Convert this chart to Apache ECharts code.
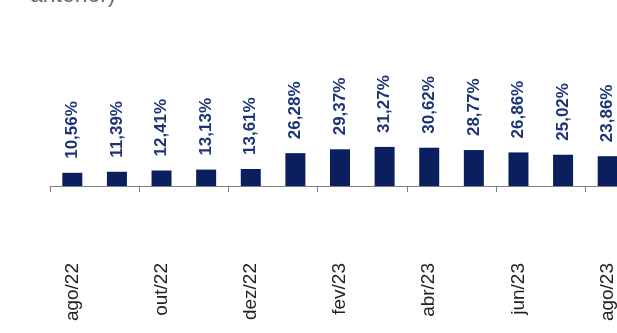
<!DOCTYPE html>
<html>
<head>
<meta charset="utf-8">
<style>
  html, body { margin: 0; padding: 0; background: #ffffff; }
  #chart { width: 617px; height: 333px; }
</style>
<script src="https://cdn.jsdelivr.net/npm/echarts@6/dist/echarts.min.js"></script>
</head>
<body>
<div id="chart"></div>
<script>
// Monthly rate, Aug/2022 – Aug/2023
const months = ['ago/22', 'set/22', 'out/22', 'nov/22', 'dez/22', 'jan/23', 'fev/23',
                'mar/23', 'abr/23', 'mai/23', 'jun/23', 'jul/23', 'ago/23'];
const rates = [10.56, 11.39, 12.41, 13.13, 13.61, 26.28, 29.37,
               31.27, 30.62, 28.77, 26.86, 25.02, 23.86];
const headerText = 'anterior)';

const chart = echarts.init(document.getElementById('chart'), null, { renderer: 'canvas' });

const fmtPct = v => v.toFixed(2).replace('.', ',') + '%';

chart.setOption({
  animation: false,
  backgroundColor: '#ffffff',
  graphic: [{
    type: 'text',
    left: 30,
    top: -16,
    style: {
      text: headerText,
      font: '23px "Liberation Sans", Arial, sans-serif',
      fill: '#6a6a6a'
    }
  }],
  grid: {
    left: 50,
    top: 36,
    width: 580,
    height: 150,
    containLabel: false,
    outerBoundsMode: 'none'
  },
  xAxis: {
    type: 'category',
    data: months,
    boundaryGap: true,
    axisLine: { show: true, lineStyle: { color: '#7f7f7f', width: 1 } },
    axisTick: { show: true, interval: 1, length: 6, alignWithLabel: false,
                lineStyle: { color: '#7f7f7f' } },
    axisLabel: {
      interval: 1,
      rotate: 90,
      margin: 77,
      color: '#222222',
      fontSize: 19,
      fontFamily: '"Liberation Sans", Arial, sans-serif'
    }
  },
  yAxis: {
    type: 'value',
    min: 0,
    max: 120,
    show: false,
    splitLine: { show: false }
  },
  series: [{
    type: 'bar',
    data: rates,
    barWidth: 20,
    itemStyle: { color: '#0b1f5e' },
    label: {
      show: true,
      position: 'top',
      rotate: 90,
      align: 'left',
      verticalAlign: 'middle',
      distance: 14,
      formatter: p => fmtPct(p.value),
      color: '#1d3577',
      fontSize: 17,
      fontWeight: 'bold',
      fontFamily: '"Liberation Sans", Arial, sans-serif'
    }
  }]
});
</script>
</body>
</html>
